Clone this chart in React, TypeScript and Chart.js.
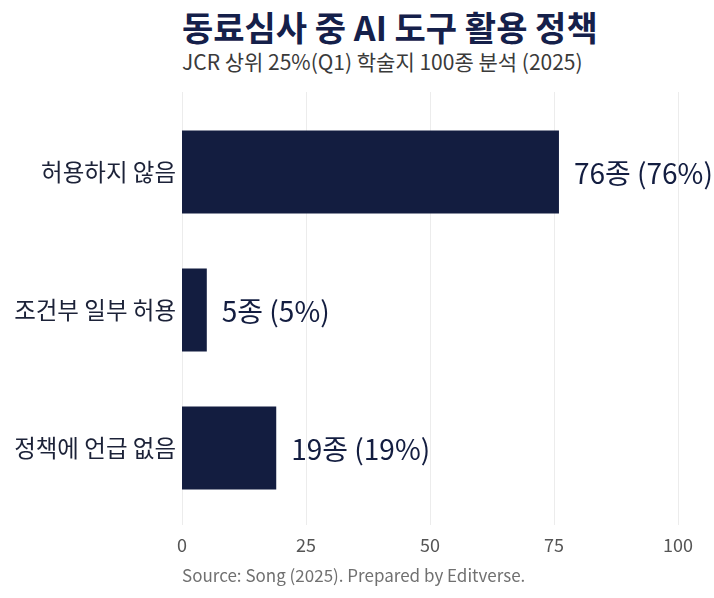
import React, { useEffect, useRef } from 'react';
import Chart from 'chart.js/auto';

const categories = ['허용하지 않음', '조건부 일부 허용', '정책에 언급 없음'];
const journalCounts = [76, 5, 19];
const totalJournals = 100;
const xTickValues = [0, 25, 50, 75, 100];

const FONT = '"Noto Sans CJK KR", "Noto Sans", sans-serif';
const NAVY = '#131d40';

// grid lines a bit taller than the plot area, like the reference
const extendedGrid = {
  id: 'extendedGrid',
  beforeDatasetsDraw(chart: any) {
    const { ctx, chartArea, scales } = chart;
    const x = scales.x;
    ctx.save();
    ctx.strokeStyle = '#ececec';
    ctx.lineWidth = 1;
    xTickValues.forEach((v) => {
      const px = Math.round(x.getPixelForValue(v)) + 0.5;
      ctx.beginPath();
      ctx.moveTo(px, chartArea.top - 11);
      ctx.lineTo(px, chartArea.bottom + 8);
      ctx.stroke();
    });
    ctx.restore();
  },
};

const valueLabels = {
  id: 'valueLabels',
  afterDatasetsDraw(chart: any) {
    const { ctx } = chart;
    const meta = chart.getDatasetMeta(0);
    ctx.save();
    ctx.font = `400 28px ${FONT}`;
    ctx.fillStyle = NAVY;
    ctx.textBaseline = 'middle';
    ctx.textAlign = 'left';
    meta.data.forEach((bar: any, i: number) => {
      const v = journalCounts[i];
      const pct = Math.round((v / totalJournals) * 100);
      ctx.fillText(`${v}종 (${pct}%)`, bar.x + 15, bar.y + 1);
    });
    ctx.restore();
  },
};

export default function App() {
  const chartRef = useRef<HTMLCanvasElement>(null);
  const chartInstance = useRef<Chart | null>(null);

  useEffect(() => {
    if (!chartRef.current) return;
    if (chartInstance.current) chartInstance.current.destroy();
    const ctx = chartRef.current.getContext('2d');
    if (!ctx) return;

    chartInstance.current = new Chart(ctx, {
      type: 'bar',
      data: {
        labels: categories,
        datasets: [
          {
            data: journalCounts,
            backgroundColor: NAVY,
            borderWidth: 0,
            barPercentage: 0.6,
            categoryPercentage: 1,
          },
        ],
      },
      options: {
        indexAxis: 'y',
        responsive: false,
        animation: false,
        layout: { padding: { top: 103, right: 36, left: 0, bottom: 0 } },
        plugins: {
          legend: { display: false },
          tooltip: { enabled: false },
          title: { display: false },
        },
        scales: {
          x: {
            min: 0,
            max: 100,
            afterBuildTicks: (scale: any) => {
              scale.ticks = xTickValues.map((v) => ({ value: v }));
            },
            afterFit: (scale: any) => {
              scale.height = 81;
            },
            grid: { display: false, drawTicks: false },
            border: { display: false },
            ticks: {
              padding: 17,
              color: '#555555',
              font: { family: FONT, size: 18 },
            },
          },
          y: {
            afterFit: (scale: any) => {
              scale.width = 182;
            },
            grid: { display: false, drawTicks: false },
            border: { display: false },
            ticks: {
              padding: 6,
              color: '#1c2238',
              font: { family: FONT, size: 23.5 },
            },
          },
        },
      },
      plugins: [extendedGrid, valueLabels],
    });

    return () => {
      if (chartInstance.current) {
        chartInstance.current.destroy();
        chartInstance.current = null;
      }
    };
  }, []);

  return (
    <div
      style={{
        position: 'fixed',
        left: 0,
        top: 0,
        width: 714,
        height: 598,
        background: '#ffffff',
        fontFamily: FONT,
      }}
    >
      <div
        style={{
          position: 'absolute',
          left: 182,
          top: 6,
          fontSize: 34,
          lineHeight: '42px',
          fontWeight: 700,
          color: '#15204a',
          whiteSpace: 'nowrap',
        }}
      >
        동료심사 중 AI 도구 활용 정책
      </div>
      <div
        style={{
          position: 'absolute',
          left: 182,
          top: 47,
          fontSize: 21,
          lineHeight: '29px',
          color: '#3a3a3a',
          whiteSpace: 'nowrap',
        }}
      >
        JCR 상위 25%(Q1) 학술지 100종 분석 (2025)
      </div>
      <canvas ref={chartRef} width={714} height={598} style={{ position: 'absolute', left: 0, top: 0 }} />
      <div
        style={{
          position: 'absolute',
          left: 182,
          top: 563,
          fontSize: 17,
          lineHeight: '23px',
          color: '#707070',
          whiteSpace: 'nowrap',
        }}
      >
        Source: Song (2025). Prepared by Editverse.
      </div>
    </div>
  );
}
